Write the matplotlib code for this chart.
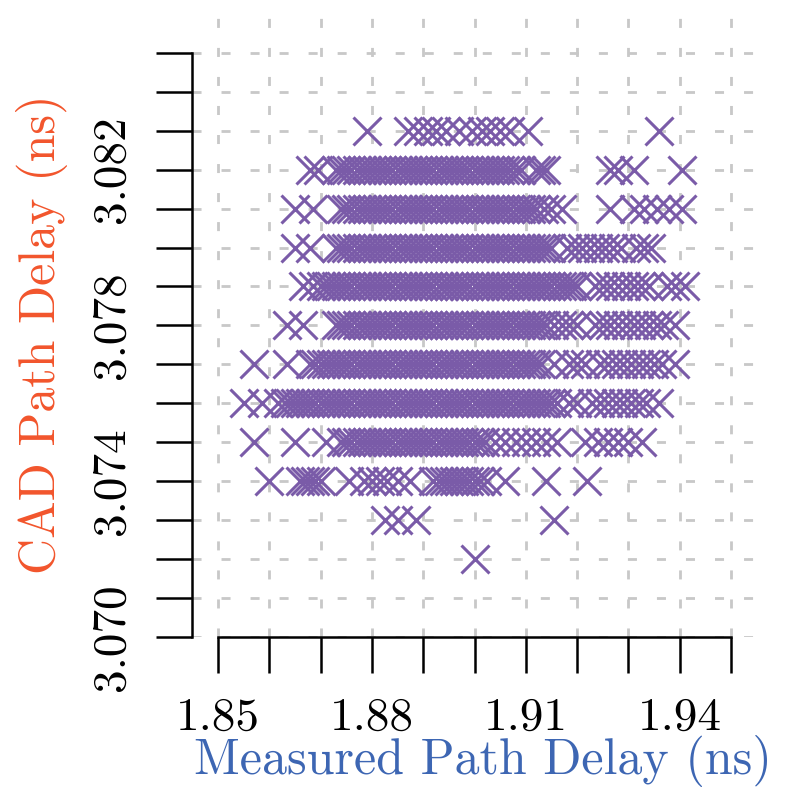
import matplotlib
matplotlib.use('Agg')
import matplotlib.pyplot as plt
import numpy as np

plt.rcParams['font.family'] = 'cmr10'
plt.rcParams['mathtext.fontset'] = 'cm'
plt.rcParams['axes.formatter.use_mathtext'] = True
plt.rcParams['lines.scale_dashes'] = False

# CAD delay levels (ns) and the measured delays (ps) found at each level
cad_levels = [3.083, 3.082, 3.081, 3.080, 3.079, 3.078,
              3.077, 3.076, 3.075, 3.074, 3.073, 3.072]

meas_3083 = [1879, 1887, 1889, 1891, 1892.5, 1894.5, 1897, 1899.5, 1901.5,
             1903, 1905, 1907, 1910.5, 1936]
meas_3082 = [1868, 1869.5, 1873, 1874, 1875, 1876, 1877, 1878, 1879, 1880,
             1881, 1882, 1883, 1884, 1885, 1886, 1887, 1888, 1889, 1890,
             1891, 1892, 1893, 1894, 1895, 1896, 1897, 1898, 1899, 1900,
             1901, 1902, 1903, 1904, 1905, 1906, 1907, 1908, 1909,
             1912, 1913, 1914, 1926.5, 1928, 1931, 1940.5]
meas_3081 = [1865, 1868.5, 1874, 1875, 1876, 1877, 1878, 1879, 1880, 1881,
             1882, 1883, 1884, 1885, 1886, 1887, 1888, 1889, 1890, 1891,
             1892, 1893, 1894, 1895, 1896, 1897, 1898, 1899, 1900, 1901,
             1902, 1903, 1904, 1905, 1906, 1907, 1908, 1909, 1910, 1911,
             1912, 1913.5, 1915, 1917, 1926.5, 1931, 1933, 1935.5, 1938,
             1940.5]
meas_3080 = [1865, 1868, 1873, 1874, 1875, 1876, 1877, 1878, 1879, 1880,
             1881, 1882, 1883, 1884, 1885, 1886, 1887, 1888, 1889, 1890,
             1891, 1892, 1893, 1894, 1895, 1896, 1897, 1898, 1899, 1900,
             1901, 1902, 1903, 1904, 1905, 1906, 1907, 1908, 1909, 1910,
             1911, 1912, 1913, 1914, 1915, 1918, 1919.5, 1921, 1922.5, 1924,
             1925.5, 1927, 1928.5, 1931.5, 1933, 1934.5]
meas_3079 = [1866.5, 1868.5, 1870, 1871, 1872, 1873, 1874, 1875, 1876,
             1877, 1878, 1879, 1880, 1881, 1882, 1883, 1884, 1885, 1886,
             1887, 1888, 1889, 1890, 1891, 1892, 1893, 1894, 1895, 1896,
             1897, 1898, 1899, 1900, 1901, 1902, 1903, 1904, 1905, 1906,
             1907, 1908, 1909, 1910, 1911, 1912, 1913, 1914, 1915, 1916,
             1917, 1918, 1919, 1920, 1923.5, 1925, 1926.5, 1928, 1929.5,
             1931, 1932.5, 1934, 1937.5, 1939, 1941]
meas_3078 = [1863.5, 1866.5, 1873, 1874, 1875, 1876, 1877, 1878, 1879,
             1880, 1881, 1882, 1883, 1884, 1885, 1886, 1887, 1888, 1889,
             1890, 1891, 1892, 1893, 1894, 1895, 1896, 1897, 1898, 1899,
             1900, 1901, 1902, 1903, 1904, 1905, 1906, 1907, 1908, 1909,
             1910, 1911, 1912, 1913, 1914, 1915.5, 1917, 1918.5, 1920,
             1923.5, 1925, 1926.5, 1928, 1929.5, 1931, 1932.5, 1934, 1935.5,
             1937, 1939]
meas_3077 = [1857, 1863.5, 1868, 1869, 1870, 1871, 1872, 1873, 1874, 1875,
             1876, 1877, 1878, 1879, 1880, 1881, 1882, 1883, 1884, 1885,
             1886, 1887, 1888, 1889, 1890, 1891, 1892, 1893, 1894, 1895,
             1896, 1897, 1898, 1899, 1900, 1901, 1902, 1903, 1904, 1905,
             1906, 1907, 1908, 1909, 1910, 1911, 1912, 1913, 1915.5, 1918.5,
             1920, 1921.5, 1924.5, 1926, 1927.5, 1929, 1930.5, 1932, 1933.5,
             1935, 1936.5, 1939]
meas_3076 = [1855, 1858.5, 1861.7, 1863, 1864, 1865, 1866, 1867, 1868,
             1869, 1870, 1871, 1872, 1873, 1874, 1875, 1876, 1877, 1878,
             1879, 1880, 1881, 1882, 1883, 1884, 1885, 1886, 1887, 1888,
             1889, 1890, 1891, 1892, 1893, 1894, 1895, 1896, 1897, 1898,
             1899, 1900, 1901, 1902, 1903, 1904, 1905, 1906, 1907, 1908,
             1909, 1910, 1911, 1912, 1913, 1914, 1915, 1916, 1918.5, 1920,
             1923, 1924.5, 1926, 1927.5, 1929, 1930.5, 1932, 1933.5, 1936]
meas_3075 = [1857, 1865, 1871, 1874, 1875, 1876, 1877, 1878, 1879, 1880,
             1881, 1882, 1883, 1884, 1885, 1886, 1887, 1888, 1889, 1890,
             1891, 1892, 1893, 1894, 1895, 1896, 1897, 1898, 1899, 1900,
             1901, 1902, 1904, 1906, 1908, 1910, 1912, 1914, 1916, 1921.5,
             1924, 1926, 1928, 1930, 1932.7]
meas_3074 = [1860, 1866, 1867, 1868, 1869, 1870, 1875.5, 1878.5, 1880,
             1881.5, 1883, 1885, 1887.5, 1892, 1893, 1894, 1895, 1896, 1897,
             1898, 1899, 1900, 1901, 1902.5, 1906, 1914, 1922]
meas_3073 = [1882.5, 1885, 1888.5, 1915.5]
meas_3072 = [1900]

meas_rows = [meas_3083, meas_3082, meas_3081, meas_3080, meas_3079, meas_3078,
             meas_3077, meas_3076, meas_3075, meas_3074, meas_3073, meas_3072]

x_ticks = [1.85, 1.86, 1.87, 1.88, 1.89, 1.90, 1.91, 1.92, 1.93, 1.94, 1.95]
x_ticklabels = ['1.85', '', '', '1.88', '', '', '1.91', '', '', '1.94', '']
y_ticks = [3.070, 3.071, 3.072, 3.073, 3.074, 3.075, 3.076, 3.077,
           3.078, 3.079, 3.080, 3.081, 3.082, 3.083, 3.084, 3.085]
y_ticklabels = ['3.070', '', '', '', '3.074', '', '', '', '3.078', '', '', '',
                '3.082', '', '', '']

x = np.concatenate([np.array(m) / 1000.0 for m in meas_rows])
y = np.concatenate([np.full(len(m), lvl) for m, lvl in zip(meas_rows, cad_levels)])

fig = plt.figure(figsize=(7.86, 7.90), dpi=100)
ax = fig.add_axes([0.2443, 0.1937, 0.7226, 0.7937])

ax.plot(x, y, 'x', color='#7a5ba8', markersize=20, markeredgewidth=2.2,
        linestyle='none', zorder=3)

ax.set_xlim(1.84493, 1.95565)
ax.set_ylim(3.070, 3.0861)

ax.set_xticks(x_ticks)
ax.set_xticklabels(x_ticklabels)
ax.set_yticks(y_ticks)
ax.set_yticklabels(y_ticklabels, rotation=90, va='center')

ax.set_axisbelow(True)
ax.grid(True, color='#c8c8c8', linewidth=2.0, linestyle=(0, (6.5, 14.4)))

# range-frame spines
ax.spines['top'].set_visible(False)
ax.spines['right'].set_visible(False)
ax.spines['left'].set_bounds(3.070, 3.085)
ax.spines['bottom'].set_bounds(1.85, 1.95)
for side in ['left', 'bottom']:
    ax.spines[side].set_linewidth(1.8)

ax.tick_params(axis='both', direction='out', length=26, width=1.8,
               labelsize=34, pad=17)

ax.set_xlabel('Measured Path Delay (ns)', fontsize=36, color='#3d66b3')
ax.set_ylabel('CAD Path Delay (ns)', fontsize=36, color='#f2552c')
ax.xaxis.set_label_coords(0.512, -0.157)
ax.yaxis.set_label_coords(-0.219, 0.483)

fig.savefig('out.png', dpi=100)
